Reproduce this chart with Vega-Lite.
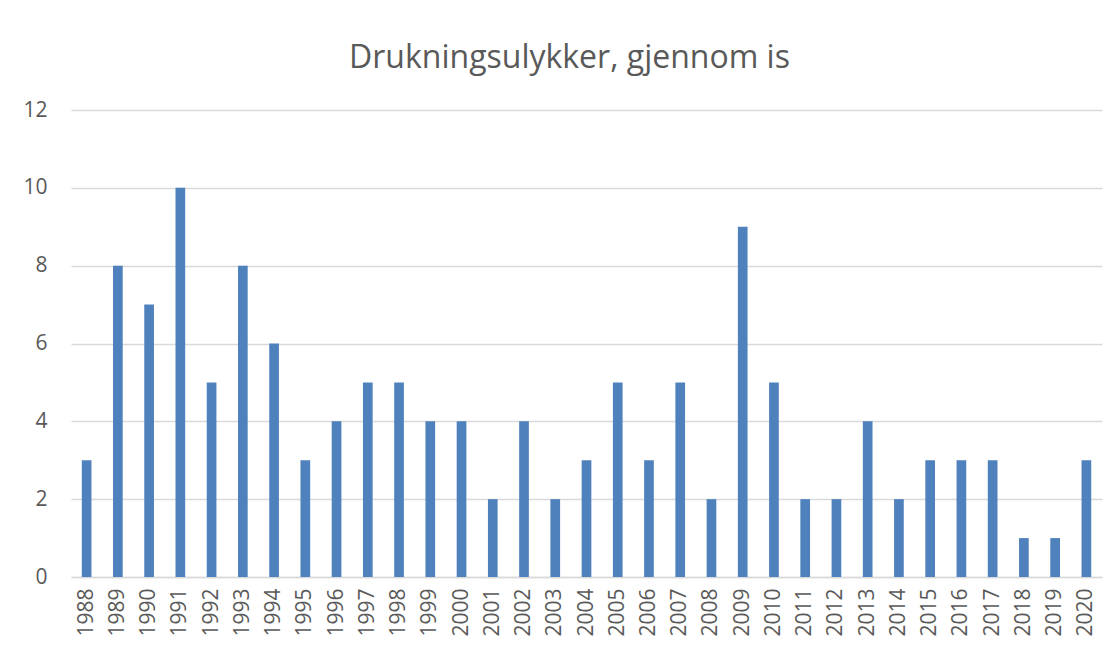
{
  "$schema": "https://vega.github.io/schema/vega-lite/v6.json",
  "width": 1031,
  "height": 467,
  "autosize": {"type": "none"},
  "padding": {"left": 71, "top": 110, "right": 15, "bottom": 75},
  "background": "white",
  "title": {
    "text": "Drukningsulykker, gjennom is",
    "font": "Open Sans",
    "fontSize": 32,
    "fontWeight": "normal",
    "color": "#595959",
    "anchor": "middle",
    "offset": 24,
    "dx": -17
  },
  "data": {
    "values": [
      {"year": "1988", "value": 3}, {"year": "1989", "value": 8}, {"year": "1990", "value": 7},
      {"year": "1991", "value": 10}, {"year": "1992", "value": 5}, {"year": "1993", "value": 8},
      {"year": "1994", "value": 6}, {"year": "1995", "value": 3}, {"year": "1996", "value": 4},
      {"year": "1997", "value": 5}, {"year": "1998", "value": 5}, {"year": "1999", "value": 4},
      {"year": "2000", "value": 4}, {"year": "2001", "value": 2}, {"year": "2002", "value": 4},
      {"year": "2003", "value": 2}, {"year": "2004", "value": 3}, {"year": "2005", "value": 5},
      {"year": "2006", "value": 3}, {"year": "2007", "value": 5}, {"year": "2008", "value": 2},
      {"year": "2009", "value": 9}, {"year": "2010", "value": 5}, {"year": "2011", "value": 2},
      {"year": "2012", "value": 2}, {"year": "2013", "value": 4}, {"year": "2014", "value": 2},
      {"year": "2015", "value": 3}, {"year": "2016", "value": 3}, {"year": "2017", "value": 3},
      {"year": "2018", "value": 1}, {"year": "2019", "value": 1}, {"year": "2020", "value": 3}
    ]
  },
  "mark": {"type": "bar", "color": "#4f81bd"},
  "encoding": {
    "x": {
      "field": "year",
      "type": "ordinal",
      "scale": {"paddingInner": 0.69, "paddingOuter": 0.345},
      "axis": {
        "title": null,
        "labelAngle": -90,
        "labelFont": "Open Sans",
        "labelFontSize": 21,
        "labelColor": "#595959",
        "labelPadding": 11,
        "ticks": false,
        "domainColor": "#d9d9d9",
        "domainWidth": 1.5,
        "grid": false
      }
    },
    "y": {
      "field": "value",
      "type": "quantitative",
      "scale": {"domain": [0, 12]},
      "axis": {
        "title": null,
        "values": [0, 2, 4, 6, 8, 10, 12],
        "labelFont": "Open Sans",
        "labelFontSize": 21,
        "labelColor": "#595959",
        "labelPadding": 24,
        "ticks": false,
        "domain": false,
        "gridColor": "#d9d9d9",
        "gridWidth": 1.5
      }
    }
  },
  "config": {"view": {"stroke": null}}
}
